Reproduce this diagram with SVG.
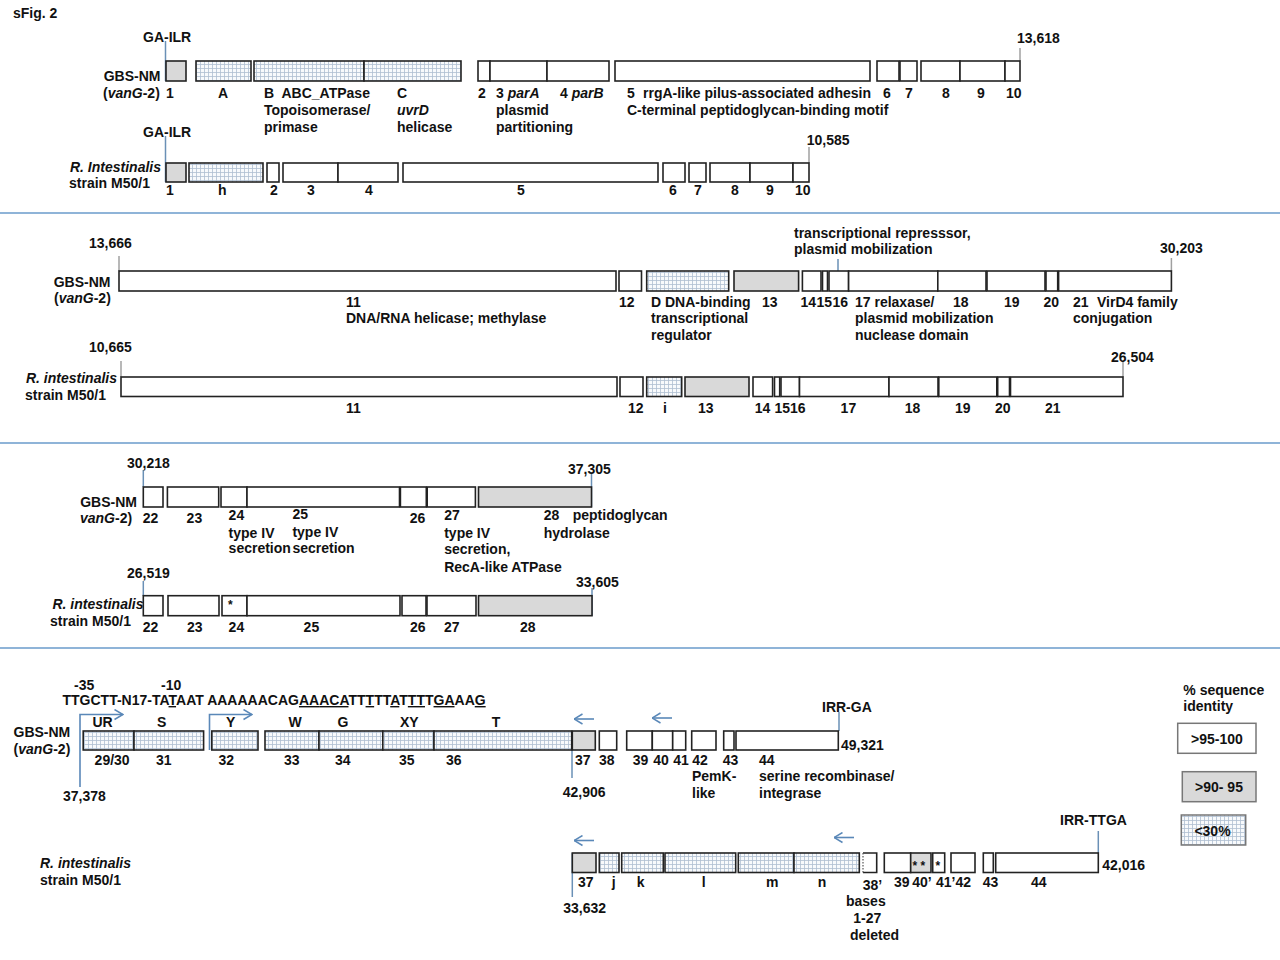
<svg xmlns="http://www.w3.org/2000/svg" width="1280" height="960" viewBox="0 0 1280 960">
<defs>
<pattern id="grid" width="4" height="4" patternUnits="userSpaceOnUse"><rect width="4" height="4" fill="#f8fafc"/><path d="M0 0.5H4M0.5 0V4" stroke="#aebfd2" stroke-width="0.8" fill="none"/></pattern>
<marker id="chev" viewBox="0 0 10 12" refX="9.5" refY="6" markerWidth="10" markerHeight="12" orient="auto" markerUnits="userSpaceOnUse"><path d="M1,1 L9.5,6 L1,11" fill="none" stroke="#5a88b8" stroke-width="1.5"/></marker>
<style>
text{font-family:"Liberation Sans",Arial,sans-serif;font-size:14px;font-weight:bold;fill:#111}
.it{font-style:italic}
.st{font-size:12px}
.b{fill:#fff;stroke:#222;stroke-width:1.6}
.g{fill:#d9d9d9;stroke:#222;stroke-width:1.6}
.h{fill:url(#grid);stroke:#222;stroke-width:1.6}
.lg{fill:#fff;stroke:#777;stroke-width:1.5}
.lgg{fill:#d9d9d9;stroke:#777;stroke-width:1.5}
.lgh{fill:url(#grid);stroke:#777;stroke-width:1.5}
.div{stroke:#8fb4d8;stroke-width:2;fill:none}
.pb{stroke:#6a90b6;stroke-width:1.5;fill:none}
.pg{stroke:#a0a0a0;stroke-width:1.5;fill:none}
.ar{stroke:#5a88b8;stroke-width:1.6;fill:none;marker-end:url(#chev)}
.u{text-decoration:underline}
</style>
</defs>
<rect width="1280" height="960" fill="#fff"/>
<g id="dividers">
<line class="div" x1="0" y1="213" x2="1280" y2="213"/>
<line class="div" x1="0" y1="443" x2="1280" y2="443"/>
<line class="div" x1="0" y1="648" x2="1280" y2="648"/>
</g>
<text x="13" y="17.5">sFig. 2</text>

<g id="connectors">
<line class="pb" x1="165.5" y1="41" x2="165.5" y2="81"/>
<line class="pb" x1="165.5" y1="136" x2="165.5" y2="182"/>
<line class="pg" x1="1020" y1="48" x2="1020" y2="61"/>
<line class="pg" x1="809" y1="147" x2="809" y2="163"/>
<line class="pg" x1="119" y1="256" x2="119" y2="271"/>
<line class="pb" x1="838" y1="259" x2="838" y2="271"/>
<line class="pg" x1="1171.4" y1="258" x2="1171.4" y2="271"/>
<line class="pg" x1="121" y1="361" x2="121" y2="377"/>
<line class="pg" x1="1123" y1="361" x2="1123" y2="377"/>
<line class="pb" x1="143.3" y1="470" x2="143.3" y2="487"/>
<line class="pb" x1="591.5" y1="474" x2="591.5" y2="507"/>
<line class="pb" x1="143.3" y1="581" x2="143.3" y2="596"/>
<line class="pb" x1="592" y1="588" x2="592" y2="616"/>
<path class="ar" d="M80,787 V714.5 H123"/>
<path class="ar" d="M209.5,750 V714.5 H252"/>
<path class="ar" d="M594,719 H574"/>
<path class="ar" d="M672,718 H652"/>
<line class="pb" x1="572" y1="731" x2="572" y2="778"/>
<line class="pb" x1="839" y1="712" x2="839" y2="731"/>
<path class="ar" d="M594,840.5 H574"/>
<path class="ar" d="M854,837.5 H834"/>
<line class="pb" x1="572.3" y1="853" x2="572.3" y2="897"/>
<line class="pb" x1="1098.3" y1="831" x2="1098.3" y2="853"/>
</g>

<!-- Section 1 -->
<g id="s1-labels">
<text x="143" y="42">GA-ILR</text>
<text x="160.5" y="81" text-anchor="end">GBS-NM</text>
<text x="103" y="98.3">(<tspan class="it">vanG</tspan>-2)</text>
<text x="1017" y="42.5">13,618</text>
<text x="143" y="137">GA-ILR</text>
<text x="161" y="171.5" text-anchor="end" class="it">R. Intestinalis</text>
<text x="69" y="188">strain M50/1</text>
<text x="806.7" y="145">10,585</text>
</g>
<g id="s1-gbs-1"><rect class="g" x="166" y="61" width="20" height="20"/><text x="166" y="98">1</text></g>
<g id="s1-gbs-A"><rect class="h" x="196" y="61" width="55" height="20"/><text x="218" y="98">A</text></g>
<g id="s1-gbs-B"><rect class="h" x="254" y="61" width="110" height="20"/><text x="264" y="98">B</text><text x="281.5" y="98">ABC_ATPase</text><text x="264" y="115">Topoisomerase/</text><text x="264" y="132">primase</text></g>
<g id="s1-gbs-C"><rect class="h" x="364" y="61" width="97" height="20"/><text x="397" y="98">C</text><text x="397" y="115" class="it">uvrD</text><text x="397" y="132">helicase</text></g>
<g id="s1-gbs-2"><rect class="b" x="478" y="61" width="12" height="20"/><text x="478" y="98">2</text></g>
<g id="s1-gbs-3"><rect class="b" x="490" y="61" width="57" height="20"/><text x="496" y="98">3 <tspan class="it">parA</tspan></text><text x="496" y="115">plasmid</text><text x="496" y="132">partitioning</text></g>
<g id="s1-gbs-4"><rect class="b" x="547" y="61" width="62" height="20"/><text x="560" y="98">4 <tspan class="it">parB</tspan></text></g>
<g id="s1-gbs-5"><rect class="b" x="615" y="61" width="255" height="20"/><text x="627" y="98">5</text><text x="643" y="98">rrgA-like pilus-associated adhesin</text><text x="627" y="115">C-terminal peptidoglycan-binding motif</text></g>
<g id="s1-gbs-6"><rect class="b" x="877" y="61" width="22" height="20"/><text x="883" y="98">6</text></g>
<g id="s1-gbs-7"><rect class="b" x="900" y="61" width="17" height="20"/><text x="905" y="98">7</text></g>
<g id="s1-gbs-8"><rect class="b" x="921" y="61" width="39" height="20"/><text x="942" y="98">8</text></g>
<g id="s1-gbs-9"><rect class="b" x="960" y="61" width="45" height="20"/><text x="977" y="98">9</text></g>
<g id="s1-gbs-10"><rect class="b" x="1005" y="61" width="15" height="20"/><text x="1006" y="98">10</text></g>

<g id="s1-ri-1"><rect class="g" x="166" y="163" width="20" height="19"/><text x="166" y="195">1</text></g>
<g id="s1-ri-h"><rect class="h" x="189" y="163" width="74" height="19"/><text x="218" y="195">h</text></g>
<g id="s1-ri-2"><rect class="b" x="267" y="163" width="12" height="19"/><text x="270" y="195">2</text></g>
<g id="s1-ri-3"><rect class="b" x="283" y="163" width="55" height="19"/><text x="307" y="195">3</text></g>
<g id="s1-ri-4"><rect class="b" x="338" y="163" width="60" height="19"/><text x="365" y="195">4</text></g>
<g id="s1-ri-5"><rect class="b" x="403" y="163" width="255" height="19"/><text x="517" y="195">5</text></g>
<g id="s1-ri-6"><rect class="b" x="663" y="163" width="22" height="19"/><text x="669" y="195">6</text></g>
<g id="s1-ri-7"><rect class="b" x="689" y="163" width="17" height="19"/><text x="694" y="195">7</text></g>
<g id="s1-ri-8"><rect class="b" x="710" y="163" width="40" height="19"/><text x="731" y="195">8</text></g>
<g id="s1-ri-9"><rect class="b" x="750" y="163" width="43" height="19"/><text x="766" y="195">9</text></g>
<g id="s1-ri-10"><rect class="b" x="793" y="163" width="16" height="19"/><text x="795" y="195">10</text></g>

<!-- Section 2 -->
<g id="s2-labels">
<text x="89" y="247.5">13,666</text>
<text x="110.5" y="286.5" text-anchor="end">GBS-NM</text>
<text x="54" y="303">(<tspan class="it">vanG</tspan>-2)</text>
<text x="794" y="238">transcriptional represssor,</text>
<text x="794" y="254">plasmid mobilization</text>
<text x="1160" y="252.5">30,203</text>
<text x="89" y="352">10,665</text>
<text x="117" y="383" text-anchor="end" class="it">R. intestinalis</text>
<text x="25" y="400">strain M50/1</text>
<text x="1111" y="361.5">26,504</text>
</g>
<g id="s2-gbs-11"><rect class="b" x="119" y="271" width="497" height="20"/><text x="346" y="306.5">11</text><text x="346" y="323">DNA/RNA helicase; methylase</text></g>
<g id="s2-gbs-12"><rect class="b" x="619" y="271" width="22.5" height="20"/><text x="619" y="306.5">12</text></g>
<g id="s2-gbs-D"><rect class="h" x="646.7" y="271" width="82" height="20"/><text x="651" y="306.5">D DNA-binding</text><text x="651" y="323">transcriptional</text><text x="651" y="340">regulator</text></g>
<g id="s2-gbs-13"><rect class="g" x="734" y="271" width="64.6" height="20"/><text x="762" y="306.5">13</text></g>
<g id="s2-gbs-14"><rect class="b" x="802.4" y="271" width="18.6" height="20"/><text x="800.5" y="306.5">14</text></g>
<g id="s2-gbs-15"><rect class="b" x="822.5" y="271" width="5" height="20"/><text x="816.5" y="306.5">15</text></g>
<g id="s2-gbs-16"><rect class="b" x="829" y="271" width="19.6" height="20"/><text x="832.5" y="306.5">16</text></g>
<g id="s2-gbs-17"><rect class="b" x="848.6" y="271" width="89.2" height="20"/><text x="855" y="306.5">17 relaxase/</text><text x="855" y="323">plasmid mobilization</text><text x="855" y="340">nuclease domain</text></g>
<g id="s2-gbs-18"><rect class="b" x="937.8" y="271" width="48.2" height="20"/><text x="953" y="306.5">18</text></g>
<g id="s2-gbs-19"><rect class="b" x="987" y="271" width="58" height="20"/><text x="1004" y="306.5">19</text></g>
<g id="s2-gbs-20"><rect class="b" x="1046" y="271" width="11.7" height="20"/><text x="1043.5" y="306.5">20</text></g>
<g id="s2-gbs-21"><rect class="b" x="1058.6" y="271" width="112.8" height="20"/><text x="1073" y="306.5">21</text><text x="1097" y="306.5">VirD4 family</text><text x="1073" y="323">conjugation</text></g>

<g id="s2-ri-11"><rect class="b" x="121" y="377" width="496" height="19.5"/><text x="346" y="412.5">11</text></g>
<g id="s2-ri-12"><rect class="b" x="620" y="377" width="23" height="19.5"/><text x="628" y="412.5">12</text></g>
<g id="s2-ri-i"><rect class="h" x="646.7" y="377" width="35" height="19.5"/><text x="663" y="412.5">i</text></g>
<g id="s2-ri-13"><rect class="g" x="685" y="377" width="64" height="19.5"/><text x="698" y="412.5">13</text></g>
<g id="s2-ri-14"><rect class="b" x="753" y="377" width="19.6" height="19.5"/><text x="754.7" y="412.5">14</text></g>
<g id="s2-ri-15"><rect class="b" x="774.5" y="377" width="5.2" height="19.5"/><text x="774.5" y="412.5">15</text></g>
<g id="s2-ri-16"><rect class="b" x="781" y="377" width="18.5" height="19.5"/><text x="790" y="412.5">16</text></g>
<g id="s2-ri-17"><rect class="b" x="799.5" y="377" width="89.5" height="19.5"/><text x="840.6" y="412.5">17</text></g>
<g id="s2-ri-18"><rect class="b" x="889" y="377" width="49" height="19.5"/><text x="904.8" y="412.5">18</text></g>
<g id="s2-ri-19"><rect class="b" x="938.8" y="377" width="58" height="19.5"/><text x="955" y="412.5">19</text></g>
<g id="s2-ri-20"><rect class="b" x="997.7" y="377" width="11.8" height="19.5"/><text x="995" y="412.5">20</text></g>
<g id="s2-ri-21"><rect class="b" x="1010.5" y="377" width="112.5" height="19.5"/><text x="1045" y="412.5">21</text></g>

<!-- Section 3 -->
<g id="s3-labels">
<text x="127" y="468">30,218</text>
<text x="568" y="474">37,305</text>
<text x="137" y="506.5" text-anchor="end">GBS-NM</text>
<text x="80" y="523"><tspan class="it">vanG</tspan>-2)</text>
<text x="127" y="577.5">26,519</text>
<text x="576" y="586.5">33,605</text>
<text x="143.5" y="609" text-anchor="end" class="it">R. intestinalis</text>
<text x="50" y="626">strain M50/1</text>
</g>
<g id="s3-gbs-22"><rect class="b" x="143.3" y="487" width="19.7" height="20"/><text x="142.8" y="523">22</text></g>
<g id="s3-gbs-23"><rect class="b" x="167.4" y="487" width="51.3" height="20"/><text x="186.6" y="523">23</text></g>
<g id="s3-gbs-24"><rect class="b" x="221" y="487" width="26" height="20"/><text x="228.6" y="520">24</text><text x="228.6" y="537.5">type IV</text><text x="228.6" y="553">secretion</text></g>
<g id="s3-gbs-25"><rect class="b" x="247" y="487" width="152.5" height="20"/><text x="292.4" y="519">25</text><text x="292.4" y="537">type IV</text><text x="292.4" y="553">secretion</text></g>
<g id="s3-gbs-26"><rect class="b" x="400.4" y="487" width="25.9" height="20"/><text x="409.8" y="523">26</text></g>
<g id="s3-gbs-27"><rect class="b" x="427.2" y="487" width="48.2" height="20"/><text x="444.2" y="520">27</text><text x="444.2" y="537.5">type IV</text><text x="444.2" y="554">secretion,</text><text x="444.2" y="571.5">RecA-like ATPase</text></g>
<g id="s3-gbs-28"><rect class="g" x="478.5" y="487" width="113" height="20"/><text x="543.7" y="520">28</text><text x="572.7" y="520">peptidoglycan</text><text x="543.7" y="537.5">hydrolase</text></g>

<g id="s3-ri-22"><rect class="b" x="143.3" y="595.7" width="19.7" height="20"/><text x="142.8" y="631.5">22</text></g>
<g id="s3-ri-23"><rect class="b" x="168" y="595.7" width="51" height="20"/><text x="187" y="631.5">23</text></g>
<g id="s3-ri-24"><rect class="b" x="222" y="595.7" width="25" height="20"/><text x="228" y="609" class="st">*</text><text x="228.6" y="631.5">24</text></g>
<g id="s3-ri-25"><rect class="b" x="247" y="595.7" width="153" height="20"/><text x="303.6" y="631.5">25</text></g>
<g id="s3-ri-26"><rect class="b" x="402" y="595.7" width="24" height="20"/><text x="410" y="631.5">26</text></g>
<g id="s3-ri-27"><rect class="b" x="427" y="595.7" width="49" height="20"/><text x="444" y="631.5">27</text></g>
<g id="s3-ri-28"><rect class="g" x="478.5" y="595.7" width="113.5" height="20"/><text x="520" y="631.5">28</text></g>

<!-- Section 4 -->
<g id="s4-labels">
<text x="74" y="690">-35</text>
<text x="161" y="690">-10</text>
<text x="62.5" y="705">TTGCTT-N17-TA<tspan class="u">T</tspan>AAT AAAAAACAG<tspan class="u">AA</tspan><tspan class="u">ACA</tspan>TT<tspan class="u">T</tspan>TT<tspan class="u">A</tspan>T<tspan class="u">TT</tspan>T<tspan class="u">GA</tspan>AA<tspan class="u">G</tspan></text>
<text x="13.5" y="737">GBS-NM</text>
<text x="13.5" y="754">(<tspan class="it">vanG</tspan>-2)</text>
<text x="63" y="801">37,378</text>
<text x="562.7" y="797">42,906</text>
<text x="822" y="712">IRR-GA</text>
<text x="841" y="750">49,321</text>
<text x="40" y="868" class="it">R. intestinalis</text>
<text x="40" y="885">strain M50/1</text>
<text x="1060" y="824.5">IRR-TTGA</text>
<text x="1102.3" y="869.5">42,016</text>
<text x="563.3" y="913">33,632</text>
</g>
<g id="s4-gbs-29-30"><rect class="h" x="83.2" y="731" width="50.8" height="19"/><text x="92.5" y="727">UR</text><text x="94.6" y="765">29/30</text></g>
<g id="s4-gbs-31"><rect class="h" x="134" y="731" width="69.6" height="19"/><text x="157" y="727">S</text><text x="156" y="765">31</text></g>
<g id="s4-gbs-32"><rect class="h" x="211.8" y="731" width="46.2" height="19"/><text x="226" y="727">Y</text><text x="218.5" y="765">32</text></g>
<g id="s4-gbs-33"><rect class="h" x="265" y="731" width="54" height="19"/><text x="288.5" y="727">W</text><text x="284" y="765">33</text></g>
<g id="s4-gbs-34"><rect class="h" x="319" y="731" width="63.8" height="19"/><text x="337.5" y="727">G</text><text x="335" y="765">34</text></g>
<g id="s4-gbs-35"><rect class="h" x="382.8" y="731" width="51.2" height="19"/><text x="400" y="727">XY</text><text x="399" y="765">35</text></g>
<g id="s4-gbs-36"><rect class="h" x="434" y="731" width="137.7" height="19"/><text x="491.7" y="727">T</text><text x="446" y="765">36</text></g>
<g id="s4-gbs-37"><rect class="g" x="572.3" y="731" width="23" height="19"/><text x="575" y="765">37</text></g>
<g id="s4-gbs-38"><rect class="b" x="599.3" y="731" width="17.4" height="19"/><text x="599" y="765">38</text></g>
<g id="s4-gbs-39"><rect class="b" x="626.7" y="731" width="25.6" height="19"/><text x="632.7" y="765">39</text></g>
<g id="s4-gbs-40"><rect class="b" x="652.3" y="731" width="20.4" height="19"/><text x="653.3" y="765">40</text></g>
<g id="s4-gbs-41"><rect class="b" x="672.7" y="731" width="13" height="19"/><text x="673.3" y="765">41</text></g>
<g id="s4-gbs-42"><rect class="b" x="691.7" y="731" width="24.3" height="19"/><text x="692.3" y="765">42</text><text x="692" y="781">PemK-</text><text x="692" y="798">like</text></g>
<g id="s4-gbs-43"><rect class="b" x="723.7" y="731" width="10.3" height="19"/><text x="722.7" y="765">43</text></g>
<g id="s4-gbs-44"><rect class="b" x="736" y="731" width="102.3" height="19"/><text x="759" y="765">44</text><text x="759" y="781">serine recombinase/</text><text x="759" y="798">integrase</text></g>

<g id="s4-ri-37"><rect class="g" x="572.3" y="853" width="23.7" height="19.5"/><text x="578" y="887">37</text></g>
<g id="s4-ri-j"><rect class="h" x="599.3" y="853" width="19.7" height="19.5"/><text x="611.7" y="887">j</text></g>
<g id="s4-ri-k"><rect class="h" x="621.7" y="853" width="41.6" height="19.5"/><text x="636.7" y="887">k</text></g>
<g id="s4-ri-l"><rect class="h" x="665" y="853" width="70.7" height="19.5"/><text x="701.7" y="887">l</text></g>
<g id="s4-ri-m"><rect class="h" x="738.3" y="853" width="55.7" height="19.5"/><text x="766" y="887">m</text></g>
<g id="s4-ri-n"><rect class="h" x="794" y="853" width="65.3" height="19.5"/><text x="817.7" y="887">n</text></g>
<g id="s4-ri-38p"><rect x="863" y="853" width="13.7" height="19.5" fill="#fff"/><path d="M863,853 H876.7 V872.5 H863" fill="none" stroke="#222" stroke-width="1.6"/><line x1="863" y1="853" x2="863" y2="872.5" stroke="#555" stroke-width="1.2" stroke-dasharray="1.5,1.5"/><text x="862.7" y="890">38’</text><text x="846" y="906">bases</text><text x="853.3" y="923">1-27</text><text x="850" y="940">deleted</text></g>
<g id="s4-ri-39"><rect class="b" x="884.3" y="853" width="26.4" height="19.5"/><text x="894" y="887">39</text></g>
<g id="s4-ri-40p"><rect class="g" x="910.7" y="853" width="20.3" height="19.5"/><text x="912.5" y="869.5" class="st">* *</text><text x="912.3" y="887">40’</text></g>
<g id="s4-ri-41p"><rect class="b" x="932.7" y="853" width="12" height="19.5"/><text x="935.5" y="869.5" class="st">*</text><text x="936" y="887">41’42</text></g>
<g id="s4-ri-42"><rect class="b" x="951" y="853" width="24" height="19.5"/></g>
<g id="s4-ri-43"><rect class="b" x="983.3" y="853" width="10" height="19.5"/><text x="982.7" y="887">43</text></g>
<g id="s4-ri-44"><rect class="b" x="995.7" y="853" width="102.6" height="19.5"/><text x="1031" y="887">44</text></g>

<g id="legend">
<text x="1183.3" y="694.5">% sequence</text>
<text x="1183.3" y="711">identity</text>
<g id="legend-high"><rect class="lg" x="1177.7" y="723.3" width="78.3" height="30"/><text x="1217" y="743.5" text-anchor="middle">&gt;95-100</text></g>
<g id="legend-mid"><rect class="lgg" x="1182.3" y="771.7" width="73.7" height="30"/><text x="1219" y="792" text-anchor="middle">&gt;90- 95</text></g>
<g id="legend-low"><rect class="lgh" x="1181.3" y="815" width="64.4" height="30"/><text x="1212.5" y="836" text-anchor="middle">&lt;30%</text></g>
</g>
</svg>
